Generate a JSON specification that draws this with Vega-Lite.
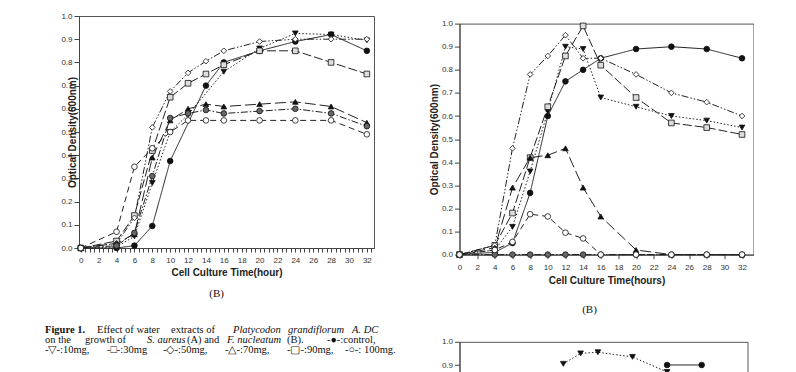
{
  "$schema": "https://vega.github.io/schema/vega-lite/v6.json",
  "background": "white",
  "padding": {"left": 45, "top": 11, "right": 0, "bottom": 0},
  "spacing": 32.5,
  "datasets": {
    "panelA": [
      {"group": "control", "hour": 0, "od": 0}, {"group": "control", "hour": 4, "od": 0.0}, {"group": "control", "hour": 6, "od": 0.01}, {"group": "control", "hour": 8, "od": 0.095}, {"group": "control", "hour": 10, "od": 0.375}, {"group": "control", "hour": 14, "od": 0.70}, {"group": "control", "hour": 16, "od": 0.80}, {"group": "control", "hour": 20, "od": 0.85}, {"group": "control", "hour": 24, "od": 0.89}, {"group": "control", "hour": 28, "od": 0.92}, {"group": "control", "hour": 32, "od": 0.85},
      {"group": "10mg", "hour": 0, "od": 0}, {"group": "10mg", "hour": 4, "od": 0.005}, {"group": "10mg", "hour": 6, "od": 0.05}, {"group": "10mg", "hour": 8, "od": 0.28}, {"group": "10mg", "hour": 10, "od": 0.50}, {"group": "10mg", "hour": 12, "od": 0.575}, {"group": "10mg", "hour": 16, "od": 0.76}, {"group": "10mg", "hour": 20, "od": 0.86}, {"group": "10mg", "hour": 24, "od": 0.925}, {"group": "10mg", "hour": 28, "od": 0.92}, {"group": "10mg", "hour": 32, "od": 0.895},
      {"group": "30mg", "hour": 0, "od": 0}, {"group": "30mg", "hour": 4, "od": 0.03}, {"group": "30mg", "hour": 6, "od": 0.14}, {"group": "30mg", "hour": 8, "od": 0.42}, {"group": "30mg", "hour": 10, "od": 0.65}, {"group": "30mg", "hour": 12, "od": 0.71}, {"group": "30mg", "hour": 14, "od": 0.75}, {"group": "30mg", "hour": 16, "od": 0.79}, {"group": "30mg", "hour": 20, "od": 0.85}, {"group": "30mg", "hour": 24, "od": 0.85}, {"group": "30mg", "hour": 28, "od": 0.80}, {"group": "30mg", "hour": 32, "od": 0.75},
      {"group": "50mg", "hour": 0, "od": 0}, {"group": "50mg", "hour": 4, "od": 0.02}, {"group": "50mg", "hour": 6, "od": 0.13}, {"group": "50mg", "hour": 8, "od": 0.52}, {"group": "50mg", "hour": 10, "od": 0.675}, {"group": "50mg", "hour": 12, "od": 0.755}, {"group": "50mg", "hour": 14, "od": 0.805}, {"group": "50mg", "hour": 16, "od": 0.85}, {"group": "50mg", "hour": 20, "od": 0.89}, {"group": "50mg", "hour": 24, "od": 0.90}, {"group": "50mg", "hour": 28, "od": 0.90}, {"group": "50mg", "hour": 32, "od": 0.90},
      {"group": "70mg", "hour": 0, "od": 0}, {"group": "70mg", "hour": 4, "od": 0.02}, {"group": "70mg", "hour": 6, "od": 0.06}, {"group": "70mg", "hour": 8, "od": 0.39}, {"group": "70mg", "hour": 10, "od": 0.55}, {"group": "70mg", "hour": 12, "od": 0.60}, {"group": "70mg", "hour": 14, "od": 0.62}, {"group": "70mg", "hour": 16, "od": 0.61}, {"group": "70mg", "hour": 20, "od": 0.62}, {"group": "70mg", "hour": 24, "od": 0.63}, {"group": "70mg", "hour": 28, "od": 0.61}, {"group": "70mg", "hour": 32, "od": 0.54},
      {"group": "90mg", "hour": 0, "od": 0}, {"group": "90mg", "hour": 4, "od": 0.01}, {"group": "90mg", "hour": 6, "od": 0.065}, {"group": "90mg", "hour": 8, "od": 0.31}, {"group": "90mg", "hour": 10, "od": 0.56}, {"group": "90mg", "hour": 12, "od": 0.58}, {"group": "90mg", "hour": 14, "od": 0.595}, {"group": "90mg", "hour": 16, "od": 0.58}, {"group": "90mg", "hour": 20, "od": 0.59}, {"group": "90mg", "hour": 24, "od": 0.60}, {"group": "90mg", "hour": 28, "od": 0.58}, {"group": "90mg", "hour": 32, "od": 0.525},
      {"group": "100mg", "hour": 0, "od": 0}, {"group": "100mg", "hour": 4, "od": 0.07}, {"group": "100mg", "hour": 6, "od": 0.35}, {"group": "100mg", "hour": 8, "od": 0.43}, {"group": "100mg", "hour": 10, "od": 0.50}, {"group": "100mg", "hour": 12, "od": 0.55}, {"group": "100mg", "hour": 14, "od": 0.55}, {"group": "100mg", "hour": 16, "od": 0.55}, {"group": "100mg", "hour": 20, "od": 0.55}, {"group": "100mg", "hour": 24, "od": 0.55}, {"group": "100mg", "hour": 28, "od": 0.55}, {"group": "100mg", "hour": 32, "od": 0.49}
    ],
    "panelB": [
      {"group": "control", "hour": 0, "od": 0}, {"group": "control", "hour": 4, "od": 0.01}, {"group": "control", "hour": 6, "od": 0.05}, {"group": "control", "hour": 8, "od": 0.267}, {"group": "control", "hour": 10, "od": 0.60}, {"group": "control", "hour": 12, "od": 0.75}, {"group": "control", "hour": 14, "od": 0.80}, {"group": "control", "hour": 16, "od": 0.85}, {"group": "control", "hour": 20, "od": 0.89}, {"group": "control", "hour": 24, "od": 0.90}, {"group": "control", "hour": 28, "od": 0.89}, {"group": "control", "hour": 32, "od": 0.85},
      {"group": "10mg", "hour": 0, "od": 0}, {"group": "10mg", "hour": 4, "od": 0.02}, {"group": "10mg", "hour": 6, "od": 0.12}, {"group": "10mg", "hour": 8, "od": 0.36}, {"group": "10mg", "hour": 10, "od": 0.62}, {"group": "10mg", "hour": 12, "od": 0.90}, {"group": "10mg", "hour": 14, "od": 0.89}, {"group": "10mg", "hour": 16, "od": 0.68}, {"group": "10mg", "hour": 20, "od": 0.64}, {"group": "10mg", "hour": 24, "od": 0.60}, {"group": "10mg", "hour": 28, "od": 0.58}, {"group": "10mg", "hour": 32, "od": 0.55},
      {"group": "30mg", "hour": 0, "od": 0}, {"group": "30mg", "hour": 4, "od": 0.04}, {"group": "30mg", "hour": 6, "od": 0.18}, {"group": "30mg", "hour": 8, "od": 0.42}, {"group": "30mg", "hour": 10, "od": 0.64}, {"group": "30mg", "hour": 12, "od": 0.86}, {"group": "30mg", "hour": 14, "od": 0.99}, {"group": "30mg", "hour": 16, "od": 0.82}, {"group": "30mg", "hour": 20, "od": 0.68}, {"group": "30mg", "hour": 24, "od": 0.57}, {"group": "30mg", "hour": 28, "od": 0.55}, {"group": "30mg", "hour": 32, "od": 0.52},
      {"group": "50mg", "hour": 0, "od": 0}, {"group": "50mg", "hour": 4, "od": 0.04}, {"group": "50mg", "hour": 6, "od": 0.46}, {"group": "50mg", "hour": 8, "od": 0.78}, {"group": "50mg", "hour": 10, "od": 0.86}, {"group": "50mg", "hour": 12, "od": 0.95}, {"group": "50mg", "hour": 14, "od": 0.85}, {"group": "50mg", "hour": 16, "od": 0.85}, {"group": "50mg", "hour": 20, "od": 0.78}, {"group": "50mg", "hour": 24, "od": 0.70}, {"group": "50mg", "hour": 28, "od": 0.66}, {"group": "50mg", "hour": 32, "od": 0.60},
      {"group": "70mg", "hour": 0, "od": 0}, {"group": "70mg", "hour": 4, "od": 0.03}, {"group": "70mg", "hour": 6, "od": 0.29}, {"group": "70mg", "hour": 8, "od": 0.42}, {"group": "70mg", "hour": 10, "od": 0.43}, {"group": "70mg", "hour": 12, "od": 0.46}, {"group": "70mg", "hour": 14, "od": 0.29}, {"group": "70mg", "hour": 16, "od": 0.165}, {"group": "70mg", "hour": 20, "od": 0.02}, {"group": "70mg", "hour": 24, "od": 0.0}, {"group": "70mg", "hour": 28, "od": 0.0}, {"group": "70mg", "hour": 32, "od": 0.0},
      {"group": "90mg", "hour": 0, "od": 0}, {"group": "90mg", "hour": 4, "od": 0}, {"group": "90mg", "hour": 6, "od": 0}, {"group": "90mg", "hour": 8, "od": 0}, {"group": "90mg", "hour": 10, "od": 0}, {"group": "90mg", "hour": 12, "od": 0}, {"group": "90mg", "hour": 14, "od": 0}, {"group": "90mg", "hour": 16, "od": 0}, {"group": "90mg", "hour": 20, "od": 0}, {"group": "90mg", "hour": 24, "od": 0}, {"group": "90mg", "hour": 28, "od": 0}, {"group": "90mg", "hour": 32, "od": 0},
      {"group": "100mg", "hour": 0, "od": 0}, {"group": "100mg", "hour": 4, "od": 0.02}, {"group": "100mg", "hour": 6, "od": 0.055}, {"group": "100mg", "hour": 8, "od": 0.175}, {"group": "100mg", "hour": 10, "od": 0.165}, {"group": "100mg", "hour": 12, "od": 0.095}, {"group": "100mg", "hour": 14, "od": 0.07}, {"group": "100mg", "hour": 16, "od": 0}, {"group": "100mg", "hour": 20, "od": 0}, {"group": "100mg", "hour": 24, "od": 0}, {"group": "100mg", "hour": 28, "od": 0}, {"group": "100mg", "hour": 32, "od": 0}
    ],
    "panelC": [
      {"group": "10mg", "hour": 12, "od": 0.905}, {"group": "10mg", "hour": 14, "od": 0.95}, {"group": "10mg", "hour": 16, "od": 0.955}, {"group": "10mg", "hour": 20, "od": 0.935}, {"group": "10mg", "hour": 24, "od": 0.87},
      {"group": "control", "hour": 24, "od": 0.90}, {"group": "control", "hour": 28, "od": 0.90}
    ]
  },
  "hconcat": [
    {
      "spacing": 8,
      "vconcat": [
        {
          "width": 295,
          "height": 232,
          "data": {"name": "panelA"},
          "encoding": {
            "x": {"field": "hour", "type": "quantitative", "scale": {"domain": [-0.2, 32.8], "nice": false, "zero": false},
              "axis": {"title": "Cell Culture Time(hour)", "values": [0,0.5,1,1.5,2,2.5,3,3.5,4,4.5,5,5.5,6,6.5,7,7.5,8,8.5,9,9.5,10,10.5,11,11.5,12,12.5,13,13.5,14,14.5,15,15.5,16,16.5,17,17.5,18,18.5,19,19.5,20,20.5,21,21.5,22,22.5,23,23.5,24,24.5,25,25.5,26,26.5,27,27.5,28,28.5,29,29.5,30,30.5,31,31.5,32,32.5],
                "labelExpr": "datum.value % 2 === 0 ? format(datum.value, 'd') : ''", "labelOverlap": false, "labelFlush": false, "tickSize": 4, "labelPadding": 4, "titlePadding": 3}},
            "y": {"field": "od", "type": "quantitative", "scale": {"domain": [0, 1], "nice": false},
              "axis": {"title": "Optical Density(600nm)", "values": [0,0.1,0.2,0.3,0.4,0.5,0.6,0.7,0.8,0.9,1.0], "format": ".1f", "tickSize": 5, "labelPadding": 2, "titlePadding": -17}}
          },
          "layer": [
            {"mark": {"type": "line", "strokeWidth": 1, "color": "#222"},
             "encoding": {"strokeDash": {"field": "group", "type": "nominal", "legend": null,
               "scale": {"domain": ["control","10mg","30mg","50mg","70mg","90mg","100mg"], "range": [[1,0],[1.5,2],[9,3],[7,2,1.5,2,1.5,2],[11,4],[7,2,1.5,2],[6,4]]}}}},
            {"mark": {"type": "point", "filled": true, "size": 32, "stroke": "#111", "strokeWidth": 0.8, "opacity": 1},
             "encoding": {
               "shape": {"field": "group", "type": "nominal", "legend": null, "scale": {"domain": ["control","10mg","30mg","50mg","70mg","90mg","100mg"], "range": ["circle","triangle-down","square","diamond","triangle-up","circle","circle"]}},
               "fill": {"field": "group", "type": "nominal", "legend": null, "scale": {"domain": ["control","10mg","30mg","50mg","70mg","90mg","100mg"], "range": ["#111111","#111111","#dddddd","#ffffff","#111111","#666666","#ffffff"]}}}}
          ]
        },
        {
          "width": 314,
          "height": 72,
          "view": {"stroke": null},
          "data": {"values": [{"k": 1}]},
          "layer": [
            {"mark": {"type": "text", "text": "(B)", "font": "Liberation Serif", "fontSize": 11, "x": 137.7, "y": 7.5, "align": "center", "baseline": "middle", "color": "#111"}},
            {"mark": {"type": "text", "text": "Figure 1.", "font": "Liberation Serif", "fontWeight": "bold", "fontSize": 10.5, "x": -34, "y": 44, "align": "left", "baseline": "middle", "color": "#111"}},
            {"mark": {"type": "text", "text": "Effect of water", "font": "Liberation Serif", "fontSize": 10.5, "x": 18, "y": 44, "align": "left", "baseline": "middle", "color": "#111"}},
            {"mark": {"type": "text", "text": "extracts of", "font": "Liberation Serif", "fontSize": 10.5, "x": 92, "y": 44, "align": "left", "baseline": "middle", "color": "#111"}},
            {"mark": {"type": "text", "text": "Platycodon", "font": "Liberation Serif", "fontStyle": "italic", "fontSize": 10.5, "x": 154, "y": 44, "align": "left", "baseline": "middle", "color": "#111"}},
            {"mark": {"type": "text", "text": "grandiflorum", "font": "Liberation Serif", "fontStyle": "italic", "fontSize": 10.5, "x": 209, "y": 44, "align": "left", "baseline": "middle", "color": "#111"}},
            {"mark": {"type": "text", "text": "A. DC", "font": "Liberation Serif", "fontStyle": "italic", "fontSize": 10.5, "x": 273, "y": 44, "align": "left", "baseline": "middle", "color": "#111"}},
            {"mark": {"type": "text", "text": "on the", "font": "Liberation Serif", "fontSize": 10.5, "x": -34, "y": 54, "align": "left", "baseline": "middle", "color": "#111"}},
            {"mark": {"type": "text", "text": "growth of", "font": "Liberation Serif", "fontSize": 10.5, "x": 6, "y": 54, "align": "left", "baseline": "middle", "color": "#111"}},
            {"mark": {"type": "text", "text": "S. aureus", "font": "Liberation Serif", "fontStyle": "italic", "fontSize": 10.5, "x": 68, "y": 54, "align": "left", "baseline": "middle", "color": "#111"}},
            {"mark": {"type": "text", "text": "(A) and", "font": "Liberation Serif", "fontSize": 10.5, "x": 108, "y": 54, "align": "left", "baseline": "middle", "color": "#111"}},
            {"mark": {"type": "text", "text": "F. nucleatum", "font": "Liberation Serif", "fontStyle": "italic", "fontSize": 10.5, "x": 148, "y": 54, "align": "left", "baseline": "middle", "color": "#111"}},
            {"mark": {"type": "text", "text": "(B).", "font": "Liberation Serif", "fontSize": 10.5, "x": 208, "y": 54, "align": "left", "baseline": "middle", "color": "#111"}},
            {"mark": {"type": "text", "text": "-●-:control,", "font": "Liberation Serif", "fontSize": 10.5, "x": 248, "y": 54, "align": "left", "baseline": "middle", "color": "#111"}},
            {"mark": {"type": "text", "text": "-▽-:10mg,", "font": "Liberation Serif", "fontSize": 10.5, "x": -34, "y": 63.7, "align": "left", "baseline": "middle", "color": "#111"}},
            {"mark": {"type": "text", "text": "-□-:30mg", "font": "Liberation Serif", "fontSize": 10.5, "x": 28, "y": 63.7, "align": "left", "baseline": "middle", "color": "#111"}},
            {"mark": {"type": "text", "text": "-◇-:50mg,", "font": "Liberation Serif", "fontSize": 10.5, "x": 84, "y": 63.7, "align": "left", "baseline": "middle", "color": "#111"}},
            {"mark": {"type": "text", "text": "-△-:70mg,", "font": "Liberation Serif", "fontSize": 10.5, "x": 146, "y": 63.7, "align": "left", "baseline": "middle", "color": "#111"}},
            {"mark": {"type": "text", "text": "-▢-:90mg,", "font": "Liberation Serif", "fontSize": 10.5, "x": 208, "y": 63.7, "align": "left", "baseline": "middle", "color": "#111"}},
            {"mark": {"type": "text", "text": "-○-: 100mg.", "font": "Liberation Serif", "fontSize": 10.5, "x": 266, "y": 63.7, "align": "left", "baseline": "middle", "color": "#111"}}
          ]
        }
      ]
    },
    {
      "spacing": 1.6,
      "vconcat": [
        {
          "width": 10,
          "height": 1,
          "view": {"stroke": null},
          "data": {"values": []},
          "mark": {"type": "point"},
          "encoding": {}
        },
        {
          "width": 294,
          "height": 231,
          "data": {"name": "panelB"},
          "encoding": {
            "x": {"field": "hour", "type": "quantitative", "scale": {"domain": [0, 33.3], "nice": false, "zero": false},
              "axis": {"title": "Cell Culture Time(hours)", "values": [0,2,4,6,8,10,12,14,16,18,20,22,24,26,28,30,32], "format": "d", "labelFlush": false, "tickSize": 4, "labelPadding": 5, "titlePadding": 4}},
            "y": {"field": "od", "type": "quantitative", "scale": {"domain": [0, 1], "nice": false},
              "axis": {"title": "Optical Density(600nm)", "values": [0,0.1,0.2,0.3,0.4,0.5,0.6,0.7,0.8,0.9,1.0], "format": ".1f", "tickSize": 5, "labelPadding": 2, "titlePadding": 2}}
          },
          "layer": [
            {"mark": {"type": "line", "strokeWidth": 1, "color": "#222"},
             "encoding": {"strokeDash": {"field": "group", "type": "nominal", "legend": null,
               "scale": {"domain": ["control","10mg","30mg","50mg","70mg","90mg","100mg"], "range": [[1,0],[1.5,2],[9,3],[7,2,1.5,2,1.5,2],[11,4],[7,2,1.5,2],[6,4]]}}}},
            {"mark": {"type": "point", "filled": true, "size": 32, "stroke": "#111", "strokeWidth": 0.8, "opacity": 1},
             "encoding": {
               "shape": {"field": "group", "type": "nominal", "legend": null, "scale": {"domain": ["control","10mg","30mg","50mg","70mg","90mg","100mg"], "range": ["circle","triangle-down","square","diamond","triangle-up","circle","circle"]}},
               "fill": {"field": "group", "type": "nominal", "legend": null, "scale": {"domain": ["control","10mg","30mg","50mg","70mg","90mg","100mg"], "range": ["#111111","#111111","#dddddd","#ffffff","#111111","#666666","#ffffff"]}}}}
          ]
        },
        {
          "width": 260,
          "height": 47,
          "view": {"stroke": null},
          "data": {"values": [{"k": 1}]},
          "mark": {"type": "text", "text": "(B)", "font": "Liberation Serif", "fontSize": 11, "x": 130, "y": 21.7, "align": "center", "baseline": "middle", "color": "#111"}
        },
        {
          "width": 288,
          "height": 232,
          "data": {"name": "panelC"},
          "encoding": {
            "x": {"field": "hour", "type": "quantitative", "scale": {"domain": [0, 33.3], "nice": false, "zero": false},
              "axis": {"title": "Cell Culture Time(hours)", "values": [0,2,4,6,8,10,12,14,16,18,20,22,24,26,28,30,32], "format": "d", "tickSize": 4, "labelPadding": 5}},
            "y": {"field": "od", "type": "quantitative", "scale": {"domain": [0, 1], "nice": false},
              "axis": {"title": "Optical Density(600nm)", "values": [0,0.1,0.2,0.3,0.4,0.5,0.6,0.7,0.8,0.9,1.0], "format": ".1f", "tickSize": 5, "labelPadding": 2, "titlePadding": 2}}
          },
          "layer": [
            {"mark": {"type": "line", "strokeWidth": 1, "color": "#222"},
             "encoding": {"strokeDash": {"field": "group", "type": "nominal", "legend": null,
               "scale": {"domain": ["control","10mg"], "range": [[1,0],[1.5,2]]}}}},
            {"mark": {"type": "point", "filled": true, "size": 32, "stroke": "#111", "strokeWidth": 0.8, "opacity": 1},
             "encoding": {
               "shape": {"field": "group", "type": "nominal", "legend": null, "scale": {"domain": ["control","10mg"], "range": ["circle","triangle-down"]}},
               "fill": {"value": "#111111"}}}
          ]
        }
      ]
    }
  ],
  "resolve": {"scale": {"strokeDash": "independent", "shape": "independent", "fill": "independent"}},
  "config": {
    "font": "Liberation Sans",
    "view": {"stroke": "#555", "strokeWidth": 1},
    "axis": {"grid": false, "domainColor": "#444", "tickColor": "#444", "labelColor": "#333", "labelFont": "Liberation Sans", "labelFontSize": 8, "titleFont": "Liberation Sans", "titleFontSize": 10, "titleFontWeight": "bold", "titleColor": "#222"}
  }
}
